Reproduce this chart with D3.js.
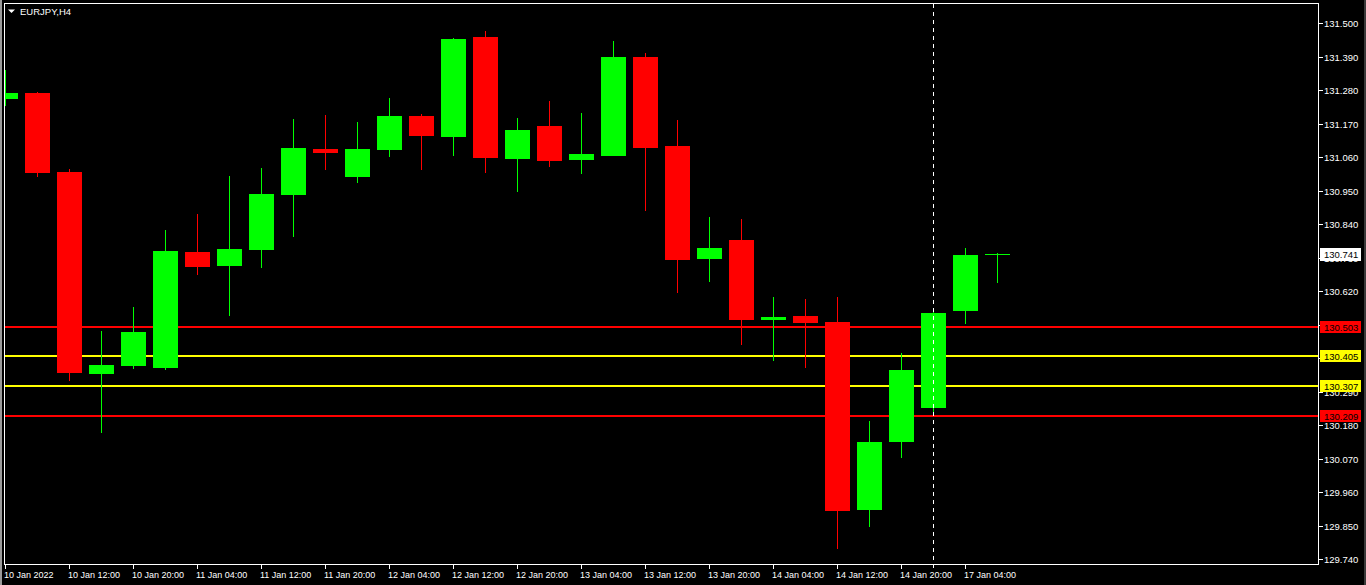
<!DOCTYPE html>
<html><head><meta charset="utf-8">
<script src="https://cdn.jsdelivr.net/npm/d3@7"></script>
<style>html,body{margin:0;padding:0;background:#000;overflow:hidden}svg{display:block}</style>
</head><body><svg id="c" width="1366" height="585"></svg>
<script>
const symbol = "EURJPY,H4";
// H4 candles, index 0 = first (partially visible) bar
const opens  = [131.251,131.270,131.011,130.348,130.375,130.368,130.748,130.703,130.756,130.936,131.086,130.995,131.084,131.195,131.127,131.454,131.054,131.162,131.051,131.064,131.388,131.096,130.726,130.787,130.526,130.538,130.518,129.902,130.125,130.237,130.555,130.739];
const highs  = [131.346,131.272,131.021,130.489,130.567,130.820,130.873,130.998,131.024,131.185,131.198,131.175,131.254,131.201,131.451,131.475,131.188,131.244,131.204,131.441,131.401,131.181,130.863,130.856,130.600,130.593,130.600,130.193,130.416,130.561,130.761,130.745];
const lows   = [131.228,130.995,130.325,130.155,130.365,130.361,130.673,130.539,130.696,130.798,131.018,130.976,131.061,131.018,131.064,131.008,130.946,131.028,131.005,131.063,130.884,130.614,130.650,130.444,130.391,130.368,129.774,129.846,130.072,130.217,130.512,130.647];
const closes = [131.270,131.008,130.352,130.377,130.485,130.751,130.700,130.758,130.938,131.090,131.074,131.086,131.195,131.130,131.447,131.058,131.149,131.048,131.070,131.388,131.090,130.723,130.761,130.526,130.534,130.516,129.898,130.124,130.360,130.548,130.738,130.741];
const timeTickIndex = [0,2,4,6,8,10,12,14,16,18,20,22,24,26,28,30];
const timeTickLabels = ["10 Jan 2022","10 Jan 12:00","10 Jan 20:00","11 Jan 04:00","11 Jan 12:00","11 Jan 20:00","12 Jan 04:00","12 Jan 12:00","12 Jan 20:00","13 Jan 04:00","13 Jan 12:00","13 Jan 20:00","14 Jan 04:00","14 Jan 12:00","14 Jan 20:00","17 Jan 04:00"];
const priceTicks = [131.500,131.390,131.280,131.170,131.060,130.950,130.840,130.730,130.620,130.510,130.400,130.290,130.180,130.070,129.960,129.850,129.740];
const levelValues = [130.503,130.405,130.307,130.209];
const levelColors = ["#ff0000","#ffff00","#ffff00","#ff0000"];
const lastPrice = 130.741;
const cursorIndex = 29;

const svg = d3.select("#c");
const FONT = "'Liberation Sans', Arial, sans-serif";
const L = 5, R = 1318, T = 4, B = 564;

const x = d3.scaleLinear().domain([0, 31]).range([5, 997]);
const y = d3.scaleLinear().domain([129.740, 131.500]).range([559, 23]);

svg.append("rect").attr("width",1366).attr("height",585).attr("fill","#000");
// window edges
svg.append("rect").attr("x",0).attr("y",0).attr("width",2).attr("height",585).attr("fill","#9a9a9a");
svg.append("rect").attr("x",1364).attr("y",0).attr("width",2).attr("height",585).attr("fill","#3a3a3a");

svg.append("defs").append("clipPath").attr("id","plot")
  .append("rect").attr("x",L).attr("y",T).attr("width",R-L).attr("height",B-T);

const plot = svg.append("g").attr("clip-path","url(#plot)");

// level lines
levelValues.forEach((v,i)=>{
  const yy = Math.round(y(v));
  plot.append("rect").attr("x",L).attr("y",yy-1).attr("width",R-L).attr("height",2).attr("fill",levelColors[i]);
});

// candles
const data = opens.map((o,i)=>({i,o,h:highs[i],l:lows[i],c:closes[i]}));
const g = plot.selectAll("g.candle").data(data).join("g").attr("class","candle");
g.append("rect")
  .attr("x", d=>Math.round(x(d.i)))
  .attr("width",1)
  .attr("y", d=>Math.round(y(d.h)))
  .attr("height", d=>Math.max(1, Math.round(y(d.l)) - Math.round(y(d.h))))
  .attr("fill", d=> d.c>=d.o ? "#00ff00" : "#ff0000");
g.append("rect")
  .attr("x", d=>Math.round(x(d.i))-12)
  .attr("width",25)
  .attr("y", d=>Math.round(y(Math.max(d.o,d.c))))
  .attr("height", d=>Math.max(1, Math.round(y(Math.min(d.o,d.c))) - Math.round(y(Math.max(d.o,d.c)))))
  .attr("fill", d=> d.c>=d.o ? "#00ff00" : "#ff0000");

// crosshair dashed vertical line
svg.append("line")
  .attr("x1", Math.round(x(cursorIndex))+0.5).attr("x2", Math.round(x(cursorIndex))+0.5)
  .attr("y1", T).attr("y2", B+4)
  .attr("stroke","#fff").attr("stroke-width",1).attr("stroke-dasharray","4,4");

// frame
svg.append("rect").attr("x",4.5).attr("y",3.5).attr("width",R-4).attr("height",B-3)
  .attr("fill","none").attr("stroke","#fff").attr("stroke-width",1);

// right price axis
const ya = svg.append("g");
priceTicks.forEach(v=>{
  const yy = Math.round(y(v));
  ya.append("line").attr("x1",R+1).attr("x2",R+5).attr("y1",yy+0.5).attr("y2",yy+0.5).attr("stroke","#fff");
  ya.append("text").attr("x",R+6).attr("y",yy+4).attr("fill","#fff")
    .attr("font-family",FONT).attr("font-size","9.5px").text(d3.format(".3f")(v));
});

// level labels
levelValues.forEach((v,i)=>{
  const yy = Math.round(y(v));
  svg.append("rect").attr("x",R+2).attr("y",yy-6).attr("width",41).attr("height",12).attr("fill",levelColors[i]);
  svg.append("text").attr("x",R+6).attr("y",yy+4).attr("fill","#000")
    .attr("font-family",FONT).attr("font-size","9.5px").text(d3.format(".3f")(v));
});
// last price label
{
  const yy = Math.round(y(lastPrice));
  svg.append("rect").attr("x",R+2).attr("y",yy-6).attr("width",41).attr("height",13).attr("fill","#fff");
  svg.append("text").attr("x",R+6).attr("y",yy+4).attr("fill","#000")
    .attr("font-family",FONT).attr("font-size","9.5px").text(d3.format(".3f")(lastPrice));
}

// bottom time axis
timeTickIndex.forEach((idx,k)=>{
  const xx = Math.round(x(idx));
  svg.append("line").attr("x1",xx+0.5).attr("x2",xx+0.5).attr("y1",B+1).attr("y2",B+5).attr("stroke","#fff");
  svg.append("text").attr("x",xx-1).attr("y",578).attr("fill","#fff")
    .attr("font-family",FONT).attr("font-size","9px").text(timeTickLabels[k]);
});

// title
svg.append("path").attr("d","M8,9.5 L15,9.5 L11.5,13 Z").attr("fill","#fff");
svg.append("text").attr("x",20).attr("y",15).attr("fill","#fff")
  .attr("font-family",FONT).attr("font-size","9.5px").text(symbol);
</script>
</body></html>
